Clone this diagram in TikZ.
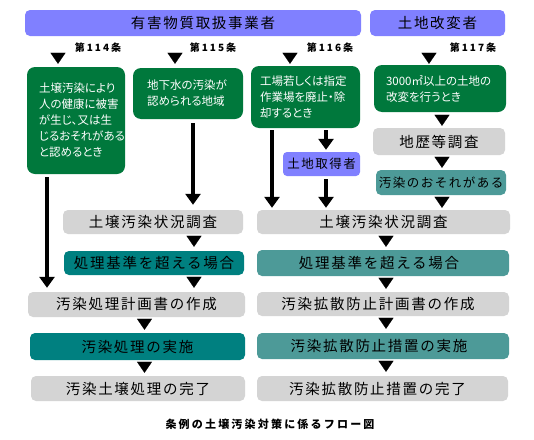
\documentclass[tikz,border=0pt]{standalone}
\usepackage{fontspec}
\setmainfont{Noto Sans CJK JP}
\newfontfamily\boxf[LetterSpace=12]{Noto Sans CJK JP}
\newfontfamily\grf[RawFeature=+palt]{Noto Sans CJK JP}
\newfontfamily\labf[LetterSpace=20]{Noto Sans CJK JP}
\usetikzlibrary{arrows.meta}
\definecolor{hdrcol}{HTML}{8080FF}
\definecolor{grncol}{HTML}{00783C}
\definecolor{gracol}{HTML}{D4D4D4}
\definecolor{dtcol}{HTML}{008080}
\definecolor{ltcol}{HTML}{4D9A98}
\tikzset{
  base/.style={inner sep=0pt, text=black},
  hdrbox/.style={base, fill=hdrcol, rounded corners=5pt, font=\boxf\fontsize{14.5}{16}\selectfont},
  smallhdr/.style={base, fill=hdrcol, rounded corners=4pt, font=\boxf\fontsize{12.5}{14}\selectfont},
  grnbox/.style={base, fill=grncol, text=white, rounded corners=8pt, align=left, font=\grf\fontsize{11.5}{16}\selectfont},
  graybox/.style={base, fill=gracol, rounded corners=5pt, font=\boxf\fontsize{14.5}{16}\selectfont},
  dtbox/.style={base, fill=dtcol, rounded corners=5pt, font=\boxf\fontsize{14.5}{16}\selectfont},
  ltbox/.style={base, fill=ltcol, rounded corners=5pt, font=\boxf\fontsize{14.5}{16}\selectfont},
  ltsmall/.style={base, fill=ltcol, rounded corners=5pt, font=\boxf\fontsize{12.5}{14}\selectfont},
  arr/.style={line width=3.5pt, -{Triangle[length=11pt,width=15pt]}},
  ftri/.style={line width=0.1pt, -{Triangle[length=11pt,width=15pt]}},
  artlab/.style={base, font=\labf\bfseries\fontsize{10}{12}\selectfont},
  caplab/.style={base, font=\labf\bfseries\fontsize{11}{13}\selectfont},
}
\begin{document}
\begin{tikzpicture}[x=1pt,y=-1pt]
\path[use as bounding box, fill=white] (0,0) rectangle (534,439);

% headers
\node[hdrbox, minimum width=336pt, minimum height=26pt] (hdrA) at (193,23) {\hspace*{20pt}有害物質取扱事業者};
\node[hdrbox, minimum width=135pt, minimum height=26pt] (hdrB) at (437.5,23) {土地改変者};

% article labels
\node[artlab] (a114) at (98,47.5) {第114条};
\node[artlab] (a115) at (213,47.5) {第115条};
\node[artlab] (a116) at (330,47.5) {第116条};
\node[artlab] (a117) at (473,47.5) {第117条};

% green boxes
\node[grnbox, minimum height=107pt, text width=74pt, inner xsep=12pt] (b1) at (76,120.5)
  {土壌汚染により\\人の健康に被害\\が生じ、又は生\\じるおそれがある\\と認めるとき};
\node[grnbox, minimum height=51pt, text width=82pt, inner xsep=14pt] (b2) at (188,93.5)
  {地下水の汚染が\\認められる地域};
\node[grnbox, minimum height=62pt, text width=91pt, inner xsep=9pt] (b3) at (305.5,97)
  {工場若しくは指定\\作業場を廃止・除\\却するとき};
\node[grnbox, minimum height=47pt, text width=108pt, inner xsep=12pt] (b4) at (440,88.5)
  {3000㎡以上の土地の\\改変を行うとき};

% right upper
\node[graybox, minimum width=132pt, minimum height=27pt] (chireki) at (439,141.5) {地歴等調査};
\node[ltsmall, minimum width=130pt, minimum height=25pt] (osore) at (441,182.5) {汚染のおそれがある};
\node[smallhdr, minimum width=77pt, minimum height=24pt] (shutoku) at (321.5,164) {土地取得者};

% left column
\node[graybox, minimum width=180pt, minimum height=24pt] (L1) at (153,222) {土壌汚染状況調査};
\node[dtbox, minimum width=180pt, minimum height=24pt] (L2) at (154,263) {処理基準を超える場合};
\node[graybox, minimum width=217pt, minimum height=25pt] (L3) at (136.5,304.5) {汚染処理計画書の作成};
\node[dtbox, minimum width=215pt, minimum height=27pt] (L4) at (137.5,346.5) {汚染処理の実施};
\node[graybox, minimum width=214pt, minimum height=25pt] (L5) at (138,388.5) {汚染土壌処理の完了};

% right column
\node[graybox, minimum width=253pt, minimum height=24pt] (R1) at (383.5,222) {土壌汚染状況調査};
\node[ltbox, minimum width=252pt, minimum height=26pt] (R2) at (383,263) {処理基準を超える場合\hspace*{8pt}};
\node[graybox, minimum width=252pt, minimum height=24pt] (R3) at (383,304) {汚染拡散防止計画書の作成\hspace*{10pt}};
\node[ltbox, minimum width=252pt, minimum height=26pt] (R4) at (383,346) {汚染拡散防止措置の実施\hspace*{8pt}};
\node[graybox, minimum width=251pt, minimum height=25pt] (R5) at (382.5,388.5) {汚染拡散防止措置の完了\hspace*{10pt}};

% caption
\node[caplab] (cap) at (270,424) {条例の土壌汚染対策に係るフロー図};

% x positions
\coordinate (x1) at (58,0);
\coordinate (x2) at (175,0);
\coordinate (x3) at (290,0);
\coordinate (x4) at (429,0);
\coordinate (xb1) at (47,0);
\coordinate (xb2) at (193,0);
\coordinate (xb3a) at (272,0);
\coordinate (xb3b) at (326,0);
\coordinate (xr) at (442,0);
\coordinate (xl1) at (194,0);
\coordinate (xl2) at (144.5,0);
\coordinate (xrr) at (386,0);

% top triangles
\draw[ftri, shorten <=17pt, shorten >=3pt] (hdrA.south -| x1) -- (b1.north -| x1);
\draw[ftri, shorten <=17pt, shorten >=4pt] (hdrA.south -| x2) -- (b2.north -| x2);
\draw[ftri, shorten <=17pt, shorten >=2pt] (hdrA.south -| x3) -- (b3.north -| x3);
\draw[ftri, shorten <=17pt, shorten >=1pt] (hdrB.south -| x4) -- (b4.north -| x4);

% long arrows
\draw[arr, shorten <=3pt, shorten >=4pt] (b1.south -| xb1) -- (L3.north -| xb1);
\draw[arr, shorten <=4pt, shorten >=5pt] (b2.south -| xb2) -- (L1.north -| xb2);
\draw[arr, shorten <=2pt, shorten >=2pt] (b3.south -| xb3a) -- (R1.north -| xb3a);
\draw[arr, shorten <=2pt, shorten >=2pt] (b3.south -| xb3b) -- (shutoku.north -| xb3b);
\draw[arr, shorten <=3pt, shorten >=2pt] (shutoku.south -| xb3b) -- (R1.north -| xb3b);

% free triangles
\draw[ftri, shorten <=3pt, shorten >=2pt] (b4.south -| xr) -- (chireki.north -| xr);
\draw[ftri, shorten <=2pt, shorten >=2pt] (chireki.south -| xr) -- (osore.north -| xr);
\draw[ftri, shorten <=2pt, shorten >=2pt] (osore.south -| xr) -- (R1.north -| xr);
\draw[ftri, shorten <=2pt, shorten >=4pt] (L1.south -| xl1) -- (L2.north -| xl1);
\draw[ftri, shorten <=2pt, shorten >=4pt] (L2.south -| xl1) -- (L3.north -| xl1);
\draw[ftri, shorten <=2pt, shorten >=3pt] (L3.south -| xl2) -- (L4.north -| xl2);
\draw[ftri, shorten <=2pt, shorten >=3pt] (L4.south -| xl2) -- (L5.north -| xl2);
\draw[ftri, shorten <=2pt, shorten >=3pt] (R1.south -| xrr) -- (R2.north -| xrr);
\draw[ftri, shorten <=2pt, shorten >=3pt] (R2.south -| xrr) -- (R3.north -| xrr);
\draw[ftri, shorten <=2pt, shorten >=4pt] (R3.south -| xrr) -- (R4.north -| xrr);
\draw[ftri, shorten <=2pt, shorten >=4pt] (R4.south -| xrr) -- (R5.north -| xrr);
\end{tikzpicture}
\end{document}
